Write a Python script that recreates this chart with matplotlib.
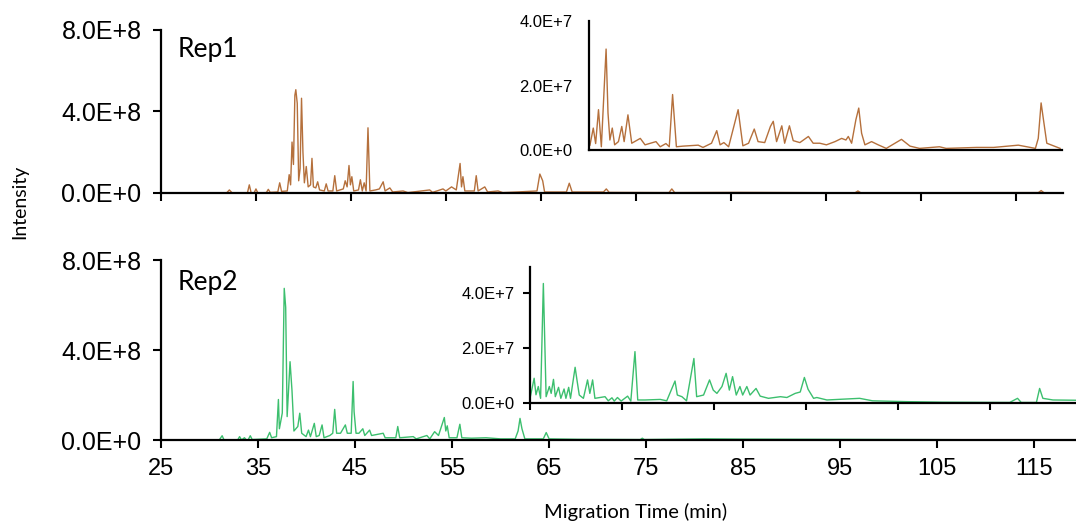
import numpy as np
import matplotlib
matplotlib.use('Agg')
import matplotlib.pyplot as plt

# ---- data (intensity of main traces in 1E+8, insets in 1E+7) ----
rep1_time = [25.0, 31.9, 32.2, 32.5, 34.1, 34.3, 34.5, 34.8, 35.0, 35.2, 36.1, 36.3, 36.5,
             37.3, 37.5, 37.7, 38.3, 38.5, 38.65, 38.8, 38.95, 39.1, 39.2, 39.35, 39.5,
             39.65, 39.8, 39.95, 40.1, 40.3, 40.5, 40.75, 40.9, 41.05, 41.3, 41.5, 41.7,
             42.2, 42.4, 42.6, 43.1, 43.3, 43.5, 44.2, 44.4, 44.6, 44.8, 44.95, 45.1, 45.3,
             45.8, 46.0, 46.2, 46.4, 46.6, 46.8, 47.0, 47.6, 48.0, 48.4, 48.6, 49.1, 49.4,
             50.5, 51.0, 53.3, 53.6, 54.7, 55.0, 55.6, 56.1, 56.5, 56.65, 56.8, 57.0, 58.0,
             58.2, 58.4, 59.1, 59.4, 60.5, 61.0, 62.5, 64.6, 64.9, 65.2, 65.4, 67.7, 68.0,
             68.3, 71.6, 71.9, 72.2, 78.5, 78.8, 79.1, 85.7, 98.1, 98.4, 98.7, 117.4, 117.7,
             118.0, 120.0]
rep1_int = [0, 0, 0.15, 0, 0, 0.4, 0, 0, 0.2, 0, 0.02, 0.18, 0.03,
            0.05, 0.5, 0.08, 0.1, 0.9, 0.4, 2.5, 1.4, 4.8, 5.07, 4.4, 0.6,
            1.2, 4.65, 2.0, 0.5, 1.3, 0.3, 0.4, 1.7, 0.3, 0.25, 0.55, 0.15,
            0.1, 0.45, 0.1, 0.1, 0.85, 0.1, 0.2, 0.6, 0.3, 1.35, 0.4, 0.8, 0.1,
            0.15, 0.65, 0.1, 0.5, 0.1, 3.2, 0.1, 0.15, 0.2, 0.55, 0.1, 0.25, 0.05,
            0.1, 0.02, 0.15, 0.03, 0.2, 0.1, 0.3, 0.15, 1.45, 0.3, 0.8, 0.1, 0.1,
            0.85, 0.1, 0.3, 0.05, 0.1, 0.02, 0.05, 0.1, 0.93, 0.6, 0.05, 0.05, 0.48,
            0.05, 0.05, 0.2, 0.03, 0.02, 0.2, 0.02, 0.03, 0.01, 0.1, 0.01, 0.02, 0.12,
            0.01, 0]

rep2_time = [25.0, 31.0, 31.3, 31.5, 32.9, 33.1, 33.3, 33.6, 33.8, 34.0, 34.2, 34.4, 35.9,
             36.2, 36.4, 36.9, 37.1, 37.2, 37.5, 37.7, 37.85, 38.0, 38.3, 38.5, 38.7, 39.1,
             39.3, 39.5, 39.95, 40.2, 40.4, 40.8, 41.0, 41.3, 41.6, 41.8, 42.4, 42.7, 42.9,
             43.1, 43.5, 44.0, 44.2, 44.6, 44.8, 44.9, 45.1, 45.4, 45.8, 46.0, 46.5, 46.7,
             47.9, 48.1, 49.2, 49.4, 49.6, 51.0, 51.3, 52.4, 52.7, 53.2, 53.6, 54.2, 54.35,
             54.5, 54.7, 55.5, 55.8, 56.0, 57.0, 58.5, 60.0, 61.5, 61.8, 62.0, 62.2, 62.5,
             64.4, 64.7, 65.0, 68.0, 74.4, 74.6, 74.8, 81.0, 84.5, 93.0, 119.3]
rep2_int = [0, 0, 0.19, 0, 0, 0.15, 0, 0.1, 0, 0.02, 0.19, 0.02, 0.05,
            0.34, 0.1, 0.15, 1.8, 0.5, 1.2, 6.74, 5.9, 1.04, 3.48, 2.2, 0.4, 0.6,
            1.19, 0.3, 0.15, 0.44, 0.15, 0.74, 0.15, 0.2, 0.67, 0.1, 0.2, 0.3, 1.36,
            0.3, 0.3, 0.67, 0.3, 0.3, 2.6, 1.26, 0.3, 0.3, 0.5, 0.2, 0.44, 0.2,
            0.3, 0.1, 0.1, 0.6, 0.1, 0.15, 0.05, 0.2, 0.05, 0.37, 0.2, 1.0, 0.4,
            0.63, 0.1, 0.1, 0.7, 0.1, 0.08, 0.1, 0.05, 0.05, 0.4, 0.96, 0.5, 0.05,
            0.05, 0.33, 0.05, 0.03, 0.02, 0.08, 0.02, 0.05, 0.04, 0.03, 0]

ins1_time = [70.1, 70.45, 70.7, 71.0, 71.3, 71.6, 71.8, 72.0, 72.2, 72.45, 72.7, 73.1, 73.45,
             73.7, 74.1, 74.5, 75.4, 75.9, 77.05, 77.5, 78.1, 78.45, 78.8, 79.2, 79.9, 81.5,
             82.0, 82.9, 83.45, 83.8, 84.2, 84.7, 85.7, 86.2, 86.8, 87.4, 87.8, 88.5, 89.1,
             89.4, 89.75, 90.3, 90.6, 91.1, 91.5, 92.2, 93.1, 93.6, 94.3, 95.0, 95.9, 96.6,
             97.05, 97.3, 97.65, 98.1, 98.4, 98.7, 99.05, 99.75, 100.45, 101.3, 102.9, 103.8,
             104.8, 106.9, 107.6, 110.8, 112.6, 115.2, 117.0, 117.3, 117.6, 117.8, 118.2, 119.6]
ins1_int = [0.15, 0.68, 0.2, 1.25, 0.1, 1.93, 3.13, 1.15, 0.31, 0.68, 0.16, 0.26, 0.73,
            0.26, 1.09, 0.21, 0.36, 0.16, 0.26, 0.1, 0.2, 0.1, 1.72, 0.1, 0.12, 0.15,
            0.08, 0.21, 0.6, 0.16, 0.23, 0.1, 1.25, 0.13, 0.21, 0.65, 0.26, 0.23, 0.73,
            0.89, 0.26, 0.75, 0.21, 0.75, 0.29, 0.23, 0.42, 0.21, 0.21, 0.16, 0.26, 0.36,
            0.31, 0.42, 0.21, 0.94, 1.3, 0.52, 0.16, 0.26, 0.16, 0.05, 0.33, 0.12,
            0.05, 0.1, 0.05, 0.08, 0.08, 0.15, 0.05, 0.36, 1.46, 1.04, 0.21, 0.05]

ins2_time = [63.0, 63.45, 63.65, 63.9, 64.15, 64.45, 64.75, 65.1, 65.3, 65.55, 65.75, 66.1,
             66.35, 66.7, 66.9, 67.2, 67.4, 67.9, 68.1, 68.35, 68.8, 69.25, 69.5, 69.8, 70.05,
             71.15, 71.5, 71.9, 72.15, 72.5, 72.9, 73.6, 73.95, 74.4, 74.7, 75.5, 77.15, 77.85,
             78.75, 79.0, 79.5, 80.0, 80.8, 81.1, 81.85, 82.5, 82.9, 83.3, 83.85, 84.3, 84.65,
             85.0, 85.4, 85.8, 86.1, 86.55, 86.9, 87.55, 88.0, 88.9, 90.2, 90.9, 91.8, 92.35,
             92.8, 93.2, 93.8, 94.15, 95.25, 98.8, 100.2, 103.85, 107.8, 115.1, 115.95, 116.35,
             118.0, 118.35, 118.7, 119.8, 122.3]
ins2_int = [0.17, 0.9, 0.3, 0.6, 0.17, 4.35, 0.23, 0.6, 0.35, 0.86, 0.23, 0.57,
            0.17, 0.51, 0.17, 0.57, 0.17, 1.3, 0.84, 0.29, 0.17, 0.84, 0.35, 0.84, 0.17,
            0.23, 0.08, 0.19, 0.07, 0.2, 0.07, 0.25, 0.07, 1.87, 0.11, 0.11, 0.13, 0.08,
            0.8, 0.29, 0.23, 0.08, 1.62, 0.23, 0.29, 0.84, 0.47, 0.35, 0.6, 1.08, 0.47,
            0.96, 0.29, 0.6, 0.29, 0.6, 0.29, 0.53, 0.25, 0.17, 0.23, 0.2, 0.35, 0.4,
            0.93, 0.5, 0.17, 0.2, 0.11, 0.17, 0.08, 0.05, 0.03, 0.02, 0.17, 0.02,
            0.02, 0.53, 0.17, 0.11, 0.1]

main_ticks = [0, 4, 8]
main_labels = ['0.0E+0', '4.0E+8', '8.0E+8']
ins_ticks = [0, 2, 4]
ins_labels = ['0.0E+0', '2.0E+7', '4.0E+7']
x_ticks = [25, 35, 45, 55, 65, 75, 85, 95, 105, 115]

c_rep1 = '#b5703c'
c_rep2 = '#3cbf6e'
W, H = 1076, 526
num_font = 'Liberation Sans'
txt_font = 'Lato'

fig = plt.figure(figsize=(W / 100, H / 100), dpi=100)


def box(l, t, r, b):
    return [l / W, 1 - b / H, (r - l) / W, (b - t) / H]


def style_axes(ax, lw=1.6):
    for s in ['top', 'right']:
        ax.spines[s].set_visible(False)
    for s in ['left', 'bottom']:
        ax.spines[s].set_linewidth(lw)
    ax.patch.set_alpha(0)


# ---- main panels ----
ax1 = fig.add_axes(box(161, 30, 1063, 193))
ax2 = fig.add_axes(box(161, 260, 1076, 440))
ax1.plot(rep1_time, rep1_int, color=c_rep1, lw=1.0)
ax2.plot(rep2_time, rep2_int, color=c_rep2, lw=1.0)
ax1.set_xlim(25, 120)
ax2.set_xlim(25, 119.3)
for ax in (ax1, ax2):
    style_axes(ax)
    ax.set_ylim(0, 8)
    ax.set_yticks(main_ticks)
    ax.set_yticklabels(main_labels, fontsize=18, family=num_font)
    ax.set_xticks(x_ticks)
    ax.tick_params(axis='both', direction='out', length=6, width=1.5, pad=7)
    ax.tick_params(axis='y', pad=8)
ax1.set_xticklabels([])
ax2.set_xticklabels([str(v) for v in x_ticks], fontsize=17, family=num_font)

fig.text(178 / W, 1 - 57 / H, 'Rep1', fontsize=19, family=txt_font, va='baseline', ha='left')
fig.text(178 / W, 1 - 290 / H, 'Rep2', fontsize=19, family=txt_font, va='baseline', ha='left')

# ---- insets ----
in1 = fig.add_axes(box(589, 21, 1062, 150))
in1.plot(ins1_time, ins1_int, color=c_rep1, lw=1.0)
in1.set_xlim(70, 119.8)
in1.set_ylim(0, 4)
style_axes(in1)
in1.set_yticks(ins_ticks)
in1.set_yticklabels(ins_labels, fontsize=12, family=num_font)
in1.set_xticks([])
in1.tick_params(axis='y', length=0, pad=12)

in2 = fig.add_axes(box(530, 267, 1076, 403))
in2.plot(ins2_time, ins2_int, color=c_rep2, lw=1.0)
in2.set_xlim(63, 122.3)
in2.set_ylim(0, 4.95)
style_axes(in2)
in2.set_yticks(ins_ticks)
in2.set_yticklabels(ins_labels, fontsize=12, family=num_font)
in2.set_xticks([63, 73, 83, 93, 103, 113])
in2.set_xticklabels([])
in2.tick_params(axis='both', direction='out', length=5, width=1.5, pad=6)

# ---- axis titles ----
fig.text(20 / W, 1 - 202 / H, 'Intensity', rotation=90, fontsize=14, family=txt_font,
         ha='center', va='center')
fig.text(636 / W, 1 - 512 / H, 'Migration Time (min)', fontsize=14.5, family=txt_font,
         ha='center', va='center')

fig.savefig('out.png', dpi=100)
